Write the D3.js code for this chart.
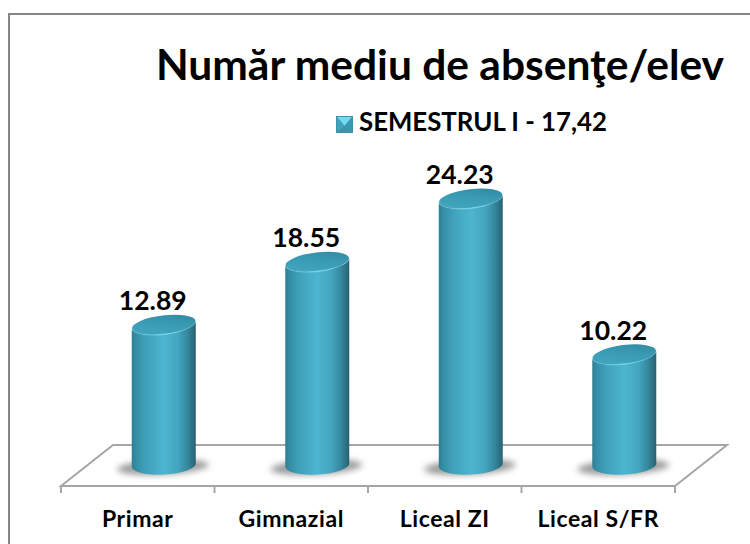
<!DOCTYPE html>
<html lang="ro">
<head>
    <meta charset="UTF-8">
    <title>Număr mediu de absenţe/elev</title>
    <script src="https://d3js.org/d3.v7.min.js"></script>
    <style>
        html, body { margin: 0; padding: 0; background: #fff; }
        svg { display: block; }
        text { font-family: Lato, "Open Sans", sans-serif; font-weight: 700; fill: #000; }
    </style>
</head>
<body>
<script>
    // date
    var categories = ['Primar', 'Gimnazial', 'Liceal ZI', 'Liceal S/FR'];
    var values = [12.89, 18.55, 24.23, 10.22];
    var seriesName = 'SEMESTRUL I - 17,42';
    var chartTitle = 'Număr mediu de absenţe/elev';

    var width = 750, height = 544;
    var svg = d3.select('body').append('svg').attr('width', width).attr('height', height);

    var floor = {left: 61, right: 675, front: 486, back: 445, depth: 52};
    var baseY = 465; // centrul bazei cilindrului
    var barW = 64, ry = 9.5, tilt = -7, baseTilt = -3;

    var x = d3.scaleBand().domain(categories).range([floor.left, floor.right]);
    var y = d3.scaleLinear().domain([0, 25]).range([468.3, 468.3 - 25 * 11.13]);

    var defs = svg.append('defs');

    function gradient(id, attrs, stops) {
        var g = defs.append('linearGradient').attr('id', id);
        Object.keys(attrs).forEach(k => g.attr(k, attrs[k]));
        stops.forEach(s => g.append('stop').attr('offset', s[0]).attr('stop-color', s[1]).attr('stop-opacity', s[2] === undefined ? 1 : s[2]));
    }
    gradient('side', {x1: 0, x2: 1, y1: 0, y2: 0}, [
        [0, '#2f7f93'], [0.07, '#348ea5'], [0.2, '#3f9fb8'], [0.5, '#4db5d0'],
        [0.72, '#44a6bf'], [0.88, '#34859b'], [0.97, '#2b6a7c'], [1, '#285f70']
    ]);
    gradient('cap', {x1: 0.1, x2: 0.9, y1: 1, y2: 0}, [
        [0, '#45a8c0'], [0.5, '#3a9db5'], [1, '#2f899f']
    ]);
    gradient('rim', {x1: 0, x2: 1, y1: 0, y2: 0}, [
        [0.1, '#6fd4e8', 0], [0.5, '#6fd4e8', 1], [0.9, '#6fd4e8', 0]
    ]);
    defs.append('filter').attr('id', 'blur').attr('x', '-30%').attr('y', '-80%').attr('width', '160%').attr('height', '260%')
        .append('feGaussianBlur').attr('stdDeviation', 3.2);
    defs.append('filter').attr('id', 'soft').attr('x', '-20%').attr('y', '-60%').attr('width', '140%').attr('height', '220%')
        .append('feGaussianBlur').attr('stdDeviation', 0.6);

    // chenar
    svg.append('path').attr('d', 'M9,544V14H750')
        .attr('fill', 'none').attr('stroke', '#868686').attr('stroke-width', 2);

    // podea
    var line = d3.line();
    svg.append('path')
        .attr('d', line([
            [floor.left, floor.front], [floor.left + floor.depth, floor.back],
            [floor.right + floor.depth, floor.back], [floor.right, floor.front]
        ]) + 'Z')
        .attr('fill', '#fff').attr('stroke', '#a6a6a6').attr('stroke-width', 2);

    // gradatii
    svg.selectAll('.tick').data(categories.concat([null])).enter().append('line')
        .attr('class', 'tick')
        .attr('x1', (d, i) => i < categories.length ? x(d) : floor.right)
        .attr('x2', (d, i) => i < categories.length ? x(d) : floor.right)
        .attr('y1', floor.front).attr('y2', floor.front + 7)
        .attr('stroke', '#a6a6a6').attr('stroke-width', 2);

    var barCenter = d => x(d) + x.bandwidth() / 2 + floor.depth / 2;

    var bars = svg.selectAll('.bar').data(categories).enter().append('g').attr('class', 'bar');

    // umbra
    bars.append('ellipse')
        .attr('cx', d => barCenter(d) - 1)
        .attr('cy', baseY + 2)
        .attr('rx', barW / 2 + 14).attr('ry', 7.5)
        .attr('transform', d => `rotate(${baseTilt} ${barCenter(d)} ${baseY})`)
        .attr('fill', '#808080').attr('opacity', 0.8)
        .attr('filter', 'url(#blur)');

    // cilindru
    function sidePath(d, i) {
        var cx = barCenter(d), top = y(values[i]), r = barW / 2;
        var dy = r * Math.sin(tilt * Math.PI / 180);
        var dyBase = r * Math.sin(baseTilt * Math.PI / 180);
        return `M${cx - r},${top - dy}` +
            `L${cx - r},${baseY - dyBase}` +
            `A${r},${ry} ${baseTilt} 0 0 ${cx + r},${baseY + dyBase}` +
            `L${cx + r},${top + dy}` +
            `A${r},${ry} ${tilt} 0 1 ${cx - r},${top - dy}Z`;
    }
    bars.append('path').attr('d', sidePath).attr('fill', 'url(#side)');

    // capac
    bars.append('ellipse')
        .attr('cx', d => barCenter(d))
        .attr('cy', (d, i) => y(values[i]))
        .attr('rx', barW / 2).attr('ry', ry)
        .attr('transform', (d, i) => `rotate(${tilt} ${barCenter(d)} ${y(values[i])})`)
        .attr('fill', 'url(#cap)');
    // margine luminoasa
    bars.append('path')
        .attr('d', (d, i) => {
            var cx = barCenter(d), top = y(values[i]), r = barW / 2 - 1;
            var dy = r * Math.sin(tilt * Math.PI / 180);
            return `M${cx - r},${top - dy}A${r},${ry} ${tilt} 0 0 ${cx + r},${top + dy}`;
        })
        .attr('fill', 'none').attr('stroke', 'url(#rim)').attr('stroke-width', 1.5)
        .attr('filter', 'url(#soft)');

    // etichete valori
    bars.append('text')
        .attr('x', d => barCenter(d) - 11)
        .attr('y', (d, i) => y(values[i]) - 14.5)
        .attr('text-anchor', 'middle').attr('font-size', 26.5)
        .text((d, i) => values[i].toFixed(2));

    // axa x
    svg.selectAll('.cat').data(categories).enter().append('text')
        .attr('class', 'cat')
        .attr('x', d => x(d) + x.bandwidth() / 2)
        .attr('y', 527)
        .attr('text-anchor', 'middle').attr('font-size', 23).attr('letter-spacing', 0.6)
        .text(d => d);

    // titlu
    svg.append('text').attr('x', 440).attr('y', 80).attr('text-anchor', 'middle')
        .attr('font-size', 42.5).text(chartTitle);

    // legenda
    var sw = svg.append('g').attr('transform', 'translate(336,116)');
    sw.append('rect').attr('width', 17).attr('height', 17).attr('fill', '#3f93a8');
    sw.append('path').attr('d', 'M1,1H16L8.5,10Z').attr('fill', '#6fdcef');
    sw.append('path').attr('d', 'M1,1V16L8.5,10Z').attr('fill', '#3fa3bc');
    sw.append('path').attr('d', 'M16,1V16L8.5,10Z').attr('fill', '#3a98b0');
    svg.append('text').attr('x', 359).attr('y', 131).attr('font-size', 25.8).text(seriesName);
</script>
</body>
</html>
